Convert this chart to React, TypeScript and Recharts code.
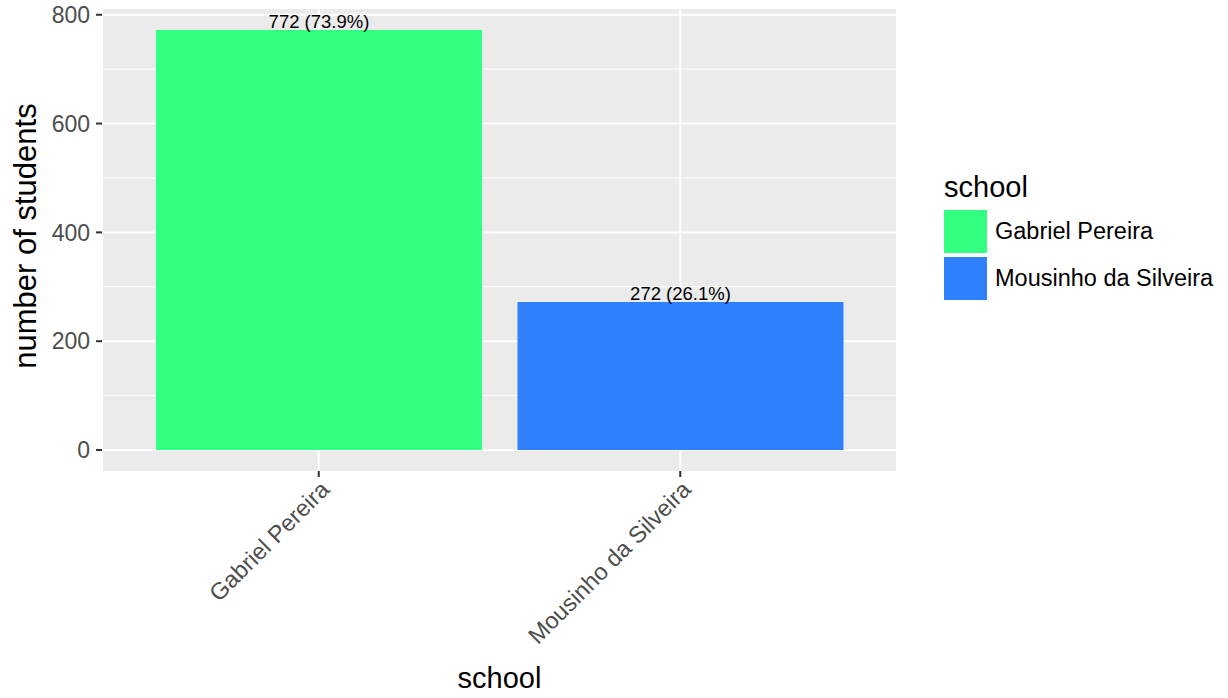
import React from 'react';
import { BarChart, Bar, XAxis, YAxis, CartesianGrid, Cell, LabelList } from 'recharts';

const schools = ['Gabriel Pereira', 'Mousinho da Silveira'];
const counts = [772, 272];
const colors = ['#33FF80', '#2E80FC'];
const yTicks = [0, 200, 400, 600, 800];
const yMinor = [100, 300, 500, 700];

const FONT = '"Liberation Sans", Arial, Helvetica, sans-serif';
const total = counts.reduce((a, b) => a + b, 0);

const data = schools.map((school, i) => ({
  school,
  count: counts[i],
  label: `${counts[i]} (${((counts[i] / total) * 100).toFixed(1)}%)`,
}));

const XTick = ({ x, y, payload }: any) => (
  <text
    x={x}
    y={y}
    dy="0.72em"
    textAnchor="end"
    transform={`rotate(-45, ${x}, ${y})`}
    fill="#4D4D4D"
    fontSize={23.5}
    fontFamily={FONT}
  >
    {payload.value}
  </text>
);

const YTitle = ({ viewBox }: any) => {
  const cx = 25;
  const cy = viewBox.y + viewBox.height / 2 - 4;
  return (
    <text
      x={cx}
      y={cy}
      textAnchor="middle"
      dominantBaseline="central"
      transform={`rotate(-90, ${cx}, ${cy})`}
      fill="#000"
      fontSize={31}
      fontFamily={FONT}
    >
      number of students
    </text>
  );
};

export default function App() {
  return (
    <div style={{ position: 'absolute', left: 0, top: 0, width: 1228, height: 698, background: '#fff', fontFamily: FONT }}>
      <BarChart
        width={1228}
        height={698}
        data={data}
        margin={{ top: 9, right: 331, bottom: 0, left: 0 }}
        barCategoryGap={18}
      >
        <CartesianGrid fill="#EBEBEB" stroke="#FFFFFF" strokeWidth={2} horizontalValues={yTicks} />
        <CartesianGrid stroke="#FFFFFF" strokeWidth={1} vertical={false} horizontalValues={yMinor} />
        <XAxis
          dataKey="school"
          type="category"
          padding={{ left: 36, right: 36 }}
          height={227}
          axisLine={false}
          tickSize={6}
          tickMargin={2}
          tickLine={{ stroke: '#333333', strokeWidth: 2 }}
          tick={<XTick />}
          interval={0}
          label={{ value: 'school', position: 'insideBottom', offset: 10, fill: '#000', fontSize: 29, fontFamily: FONT }}
        />
        <YAxis
          type="number"
          width={102}
          domain={[-38.6, 810.6]}
          ticks={yTicks}
          allowDataOverflow
          axisLine={false}
          tickSize={6}
          tickMargin={6}
          tickLine={{ stroke: '#333333', strokeWidth: 2 }}
          tick={{ fill: '#4D4D4D', fontSize: 23, fontFamily: FONT }}
          label={<YTitle />}
        />
        <Bar dataKey="count" isAnimationActive={false}>
          {data.map((d, i) => (
            <Cell key={d.school} fill={colors[i]} />
          ))}
          <LabelList dataKey="label" position="top" offset={2} fill="#000" fontSize={18.5} fontFamily={FONT} />
        </Bar>
      </BarChart>

      <div style={{ position: 'absolute', left: 944, top: 170, color: '#000' }}>
        <div style={{ fontSize: 29, lineHeight: '34px', height: 38 }}>school</div>
        {schools.map((s, i) => (
          <div key={s} style={{ display: 'flex', alignItems: 'center', height: 47 }}>
            <div style={{ width: 43, height: 43, background: colors[i] }} />
            <span style={{ marginLeft: 8, fontSize: 23.5 }}>{s}</span>
          </div>
        ))}
      </div>
    </div>
  );
}
